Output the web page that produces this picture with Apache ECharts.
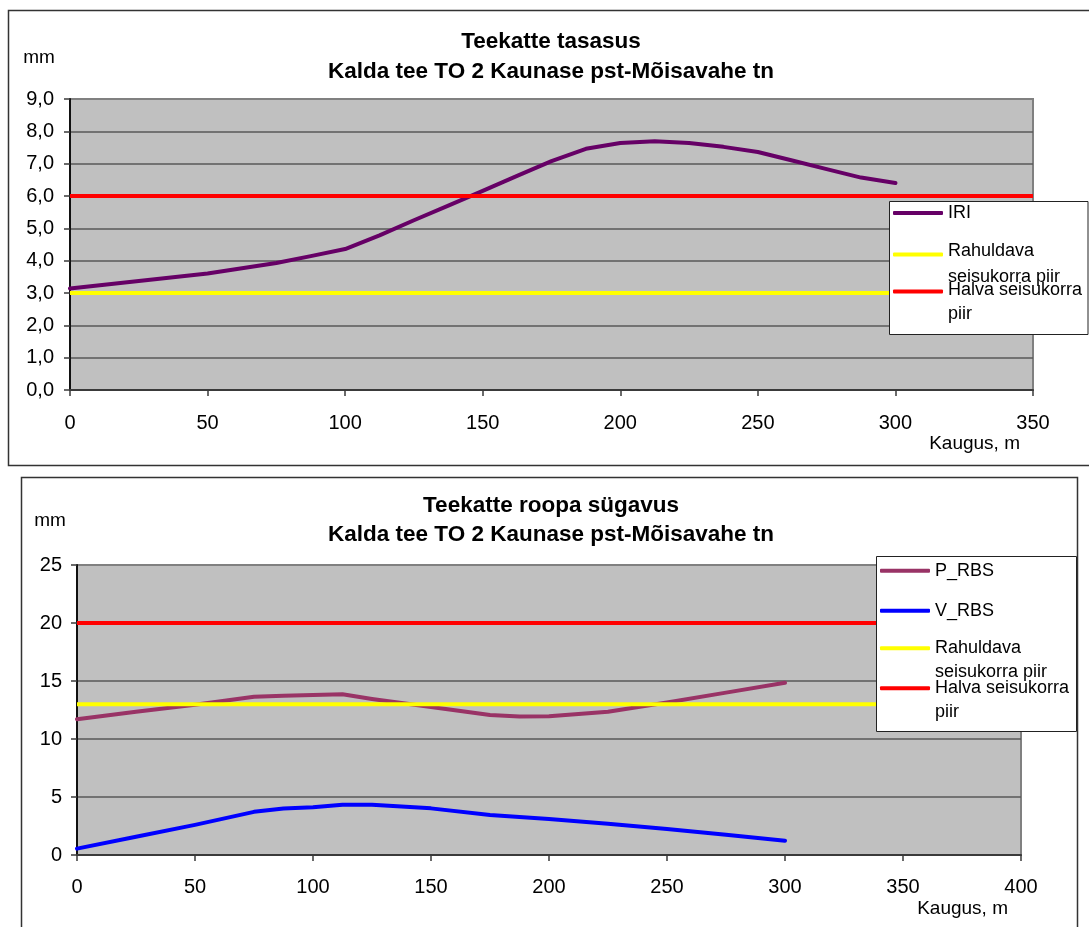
<!DOCTYPE html>
<html>
<head>
<meta charset="utf-8">
<script src="https://cdn.jsdelivr.net/npm/echarts@6/dist/echarts.min.js"></script>
<style>
  html, body { margin: 0; padding: 0; background: #fff; }
  #chart { width: 1089px; height: 927px; }
</style>
</head>
<body>
<div id="chart"></div>
<script>
// Road surface evenness (IRI) along the section, metres from start
const distIri = [0, 25, 50, 75, 87.5, 100, 112.5, 125, 137.5, 150, 162.5, 175, 187.5, 200, 212.5, 225, 237.5, 250, 262.5, 275, 287.5, 300];
const iriValues = [3.14, 3.37, 3.6, 3.93, 4.14, 4.36, 4.78, 5.25, 5.7, 6.16, 6.62, 7.08, 7.46, 7.64, 7.69, 7.64, 7.52, 7.36, 7.1, 6.83, 6.57, 6.4];
const iriSatisfactoryLimit = 3;
const iriPoorLimit = 6;
const iriXTicks = [0, 350, 50];     // min, max, step
const iriYTicks = [0, 9, 1];

// Rut depth, left (P) and right (V) wheel path
const distRbs = [0, 25, 50, 75, 87.5, 100, 112.5, 125, 150, 175, 187.5, 200, 225, 250, 275, 300];
const pRbsValues = [11.7, 12.35, 12.95, 13.65, 13.72, 13.8, 13.85, 13.45, 12.75, 12.07, 11.95, 11.97, 12.35, 13.15, 14.0, 14.85];
const vRbsValues = [0.55, 1.58, 2.6, 3.72, 4.0, 4.12, 4.33, 4.33, 4.02, 3.45, 3.28, 3.1, 2.7, 2.25, 1.75, 1.23];
const rbsSatisfactoryLimit = 13;
const rbsPoorLimit = 20;
const rbsXTicks = [0, 400, 50];
const rbsYTicks = [0, 25, 5];

const seriesNames = {
  iri: 'IRI',
  p: 'P_RBS',
  v: 'V_RBS',
  ok: 'Rahuldava seisukorra piir',
  bad: 'Halva seisukorra piir'
};
const titles = [
  'Teekatte tasasus\nKalda tee TO 2 Kaunase pst-Mõisavahe tn',
  'Teekatte roopa sügavus\nKalda tee TO 2 Kaunase pst-Mõisavahe tn'
];

const FONT = '"Liberation Sans", Arial, sans-serif';
const zip = (xs, ys) => xs.map((x, i) => [x, ys[i]]);
const hLine = (range, v) => [[range[0], v], [range[1], v]];

function xAxisCfg(gridIndex, ticks) {
  return {
    type: 'value', gridIndex, min: ticks[0], max: ticks[1], interval: ticks[2],
    name: 'Kaugus, m', nameLocation: 'end', nameGap: -13, nameMoveOverlap: false,
    nameTextStyle: { fontFamily: FONT, fontSize: 19, color: '#000', align: 'right', verticalAlign: 'top', padding: [44, 0, 0, 0] },
    axisLine: { show: true, onZero: false, lineStyle: { color: '#3a3a3a', width: 2 } },
    axisTick: { show: true, length: 6, lineStyle: { color: '#3a3a3a', width: 1.5 } },
    axisLabel: { fontFamily: FONT, fontSize: 20, color: '#000', margin: gridIndex === 0 ? 23 : 22 },
    splitLine: { show: false }
  };
}
function yAxisCfg(gridIndex, ticks, fmt, margin) {
  return {
    type: 'value', gridIndex, min: ticks[0], max: ticks[1], interval: ticks[2],
    name: 'mm', nameLocation: 'end', nameGap: gridIndex === 0 ? 32 : 35, nameMoveOverlap: false,
    nameTextStyle: { fontFamily: FONT, fontSize: 19, color: '#000', align: 'center', padding: [0, gridIndex === 0 ? 62 : 54, 0, 0] },
    axisLine: { show: true, onZero: false, lineStyle: { color: '#111', width: 2 } },
    axisTick: { show: true, length: 6, lineStyle: { color: '#3a3a3a', width: 1.5 } },
    axisLabel: { fontFamily: FONT, fontSize: 20, color: '#000', margin, formatter: fmt },
    splitLine: { show: true, showMinLine: false, showMaxLine: false, lineStyle: { color: '#585858', width: 1.5 } }
  };
}
function lineSeries(name, data, color, xi, cap) {
  return {
    type: 'line', name, data, xAxisIndex: xi, yAxisIndex: xi,
    color, symbol: 'none', smooth: false, animation: false, z: 2,
    lineStyle: { color, width: 4, cap: cap || 'round', join: 'round' }
  };
}
// one legend per entry so that each key sits exactly where it should;
// the blank first rich line lifts the wrapped label so its first line meets the key
function legendItem(name, left, top, lineHeight, lead, fmt) {
  return {
    data: [name], orient: 'vertical', left, top, padding: 0, z: 60,
    itemWidth: 50, itemHeight: 4, itemGap: 0, icon: 'roundRect', selectedMode: false,
    formatter: fmt || (n => n),
    textStyle: {
      fontFamily: FONT, fontSize: 18, color: '#000', lineHeight,
      rich: {
        s: { fontFamily: FONT, fontSize: 4, lineHeight: lead },
        t: { fontFamily: FONT, fontSize: 18, color: '#000', lineHeight }
      }
    }
  };
}
const okLabel = () => '{s| }\n{t|Rahuldava}\n{t|seisukorra piir}';
const badLabel = () => '{s| }\n{t|Halva seisukorra}\n{t|piir}';

const option = {
  backgroundColor: '#fff',
  animation: false,
  title: [
    { text: titles[0], left: 551, top: 27.5, textAlign: 'center', padding: 0,
      textStyle: { fontFamily: FONT, fontSize: 22.5, fontWeight: 'bold', color: '#000', lineHeight: 29.5 } },
    { text: titles[1], left: 551, top: 491, textAlign: 'center', padding: 0,
      textStyle: { fontFamily: FONT, fontSize: 22.5, fontWeight: 'bold', color: '#000', lineHeight: 29.5 } }
  ],
  grid: [
    { left: 70, top: 99, width: 963, height: 291, show: true, backgroundColor: '#C0C0C0',
      borderColor: '#808080', borderWidth: 2, containLabel: false, outerBoundsMode: 'none' },
    { left: 77, top: 565, width: 944, height: 290, show: true, backgroundColor: '#C0C0C0',
      borderColor: '#808080', borderWidth: 2, containLabel: false, outerBoundsMode: 'none' }
  ],
  xAxis: [xAxisCfg(0, iriXTicks), xAxisCfg(1, rbsXTicks)],
  yAxis: [
    yAxisCfg(0, iriYTicks, v => v.toFixed(1).replace('.', ','), 16),
    yAxisCfg(1, rbsYTicks, v => String(v), 15)
  ],
  legend: [
    legendItem(seriesNames.iri, 893, 200.5, 25, 0),
    legendItem(seriesNames.ok, 893, 218.5, 26, 20, okLabel),
    legendItem(seriesNames.bad, 893, 256.5, 24, 22, badLabel),
    legendItem(seriesNames.p, 880, 558.7, 24, 0),
    legendItem(seriesNames.v, 880, 598.7, 24, 0),
    legendItem(seriesNames.ok, 880, 612.3, 24, 24, okLabel),
    legendItem(seriesNames.bad, 880, 652.8, 24, 23, badLabel)
  ],
  graphic: {
    elements: [
      // panel frames
      { type: 'rect', z: 0, silent: true, shape: { x: 8.5, y: 10.5, width: 1100, height: 455 },
        style: { fill: null, stroke: '#333', lineWidth: 1.5 } },
      { type: 'rect', z: 0, silent: true, shape: { x: 21.5, y: 477.5, width: 1056, height: 470 },
        style: { fill: null, stroke: '#333', lineWidth: 1.5 } },
      // legend boxes, above the plotted lines
      { type: 'rect', z: 50, silent: true, shape: { x: 889.5, y: 201.5, width: 198.5, height: 133 },
        style: { fill: '#fff', stroke: '#222', lineWidth: 1 } },
      { type: 'rect', z: 50, silent: true, shape: { x: 876.5, y: 556.5, width: 200, height: 175 },
        style: { fill: '#fff', stroke: '#222', lineWidth: 1 } }
    ]
  },
  series: [
    lineSeries(seriesNames.iri, zip(distIri, iriValues), '#660066', 0),
    lineSeries(seriesNames.ok, hLine(iriXTicks, iriSatisfactoryLimit), '#FFFF00', 0, 'butt'),
    lineSeries(seriesNames.bad, hLine(iriXTicks, iriPoorLimit), '#FF0000', 0, 'butt'),
    lineSeries(seriesNames.p, zip(distRbs, pRbsValues), '#993366', 1),
    lineSeries(seriesNames.v, zip(distRbs, vRbsValues), '#0000FF', 1),
    lineSeries(seriesNames.ok, hLine(rbsXTicks, rbsSatisfactoryLimit), '#FFFF00', 1, 'butt'),
    lineSeries(seriesNames.bad, hLine(rbsXTicks, rbsPoorLimit), '#FF0000', 1, 'butt')
  ]
};

const chart = echarts.init(document.getElementById('chart'), null, { renderer: 'canvas' });
chart.setOption(option);
</script>
</body>
</html>
